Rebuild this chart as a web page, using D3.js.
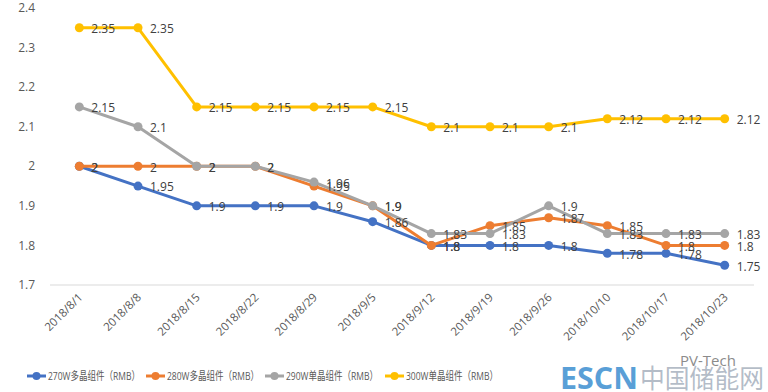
<!DOCTYPE html>
<html>
<head>
<meta charset="utf-8">
<script src="https://cdn.jsdelivr.net/npm/d3@7"></script>
<style>
  body { margin: 0; background: #fff; }
  text { font-family: "Open Sans", "Noto Sans CJK SC", sans-serif; }
</style>
</head>
<body>
<div id="chart"></div>
<script>
var width  = 768;
var height = 392;

var dates = ["2018/8/1", "2018/8/8", "2018/8/15", "2018/8/22", "2018/8/29", "2018/9/5",
             "2018/9/12", "2018/9/19", "2018/9/26", "2018/10/10", "2018/10/17", "2018/10/23"];
var yTicks = [1.7, 1.8, 1.9, 2, 2.1, 2.2, 2.3, 2.4];

var names  = ["270W多晶组件（RMB）", "280W多晶组件（RMB）", "290W单晶组件（RMB）", "300W单晶组件（RMB）"];
var colors = ["#4472c4", "#ed7d31", "#a5a5a5", "#ffc000"];

var p270 = [2, 1.95, 1.9, 1.9, 1.9, 1.86, 1.8, 1.8, 1.8, 1.78, 1.78, 1.75];
var p280 = [2, 2, 2, 2, 1.95, 1.9, 1.8, 1.85, 1.87, 1.85, 1.8, 1.8];
var p290 = [2.15, 2.1, 2, 2, 1.96, 1.9, 1.83, 1.83, 1.9, 1.83, 1.83, 1.83];
var p300 = [2.35, 2.35, 2.15, 2.15, 2.15, 2.15, 2.1, 2.1, 2.1, 2.12, 2.12, 2.12];

var series = [p270, p280, p290, p300].map(function(v, i) {
  return { name: names[i], color: colors[i], values: v };
});

var svg = d3.select("#chart").append("svg")
    .attr("width", width)
    .attr("height", height);

var x = d3.scaleBand().domain(dates).range([50, 754]);
var y = d3.scaleLinear().domain([1.7, 2.4]).range([285, 8]);
function cx(d) { return x(d) + x.bandwidth() / 2; }

// baseline
svg.append("line")
   .attr("x1", 50).attr("x2", 754)
   .attr("y1", y(1.7)).attr("y2", y(1.7))
   .attr("stroke", "#d9d9d9").attr("stroke-width", 1);

// y labels
svg.selectAll(".ylab")
   .data(yTicks)
   .enter().append("text")
   .attr("class", "ylab")
   .attr("x", 35)
   .attr("y", function(d) { return y(d); })
   .attr("dy", "0.35em")
   .attr("text-anchor", "end")
   .attr("font-size", 12)
   .attr("fill", "#595959")
   .text(function(d) { return d; });

// x labels
svg.selectAll(".xlab")
   .data(dates)
   .enter().append("text")
   .attr("class", "xlab")
   .attr("text-anchor", "end")
   .attr("font-size", 11.5)
   .attr("fill", "#595959")
   .attr("transform", function(d) { return "translate(" + (cx(d) + 4) + ",298) rotate(-45)"; })
   .text(function(d) { return d; });

var line = d3.line()
    .x(function(d, i) { return cx(dates[i]); })
    .y(function(d) { return y(d); });

series.forEach(function(s) {
  var g = svg.append("g");
  g.append("path")
   .attr("d", line(s.values))
   .attr("fill", "none")
   .attr("stroke", s.color)
   .attr("stroke-width", 3)
   .attr("stroke-linejoin", "round");
  g.selectAll("circle")
   .data(s.values)
   .enter().append("circle")
   .attr("cx", function(d, i) { return cx(dates[i]); })
   .attr("cy", function(d) { return y(d); })
   .attr("r", 4.5)
   .attr("fill", s.color);
});

// data labels
series.forEach(function(s) {
  svg.append("g").selectAll("text")
     .data(s.values)
     .enter().append("text")
     .attr("x", function(d, i) { return cx(dates[i]) + 12; })
     .attr("y", function(d) { return y(d); })
     .attr("dy", "0.45em")
     .attr("font-size", 12)
     .attr("fill", "#404040")
     .text(function(d) { return d; });
});

// legend
var legX = [27, 146, 265, 385];
var leg = svg.selectAll(".leg")
   .data(series)
   .enter().append("g")
   .attr("class", "leg")
   .attr("transform", function(d, i) { return "translate(" + legX[i] + ",376)"; });
leg.append("line")
   .attr("x1", 0).attr("x2", 19)
   .attr("stroke", function(d) { return d.color; })
   .attr("stroke-width", 3);
leg.append("circle")
   .attr("cx", 9.5).attr("r", 4)
   .attr("fill", function(d) { return d.color; });
leg.append("text")
   .attr("x", 21)
   .attr("dy", "0.35em")
   .attr("font-size", 11.5)
   .attr("fill", "#595959")
   .attr("textLength", 92)
   .attr("lengthAdjust", "spacingAndGlyphs")
   .text(function(d) { return d.name; });

// watermark
var wm = svg.append("g").attr("opacity", 0.85);
wm.append("text")
  .attr("x", 560).attr("y", 389)
  .attr("font-size", 31).attr("font-weight", "bold")
  .attr("font-family", "Liberation Sans, sans-serif")
  .attr("fill", "#3d8fd1")
  .attr("textLength", 78)
  .attr("lengthAdjust", "spacingAndGlyphs")
  .text("ESCN");
wm.append("text")
  .attr("x", 640).attr("y", 388)
  .attr("font-size", 26)
  .attr("font-family", "Noto Sans CJK SC")
  .attr("fill", "#6b7c93")
  .attr("fill-opacity", 0.6)
  .attr("textLength", 124)
  .attr("lengthAdjust", "spacingAndGlyphs")
  .text("中国储能网");
wm.append("text")
  .attr("x", 680).attr("y", 366)
  .attr("font-size", 15)
  .attr("fill", "#777")
  .text("PV-Tech");
</script>
</body>
</html>
